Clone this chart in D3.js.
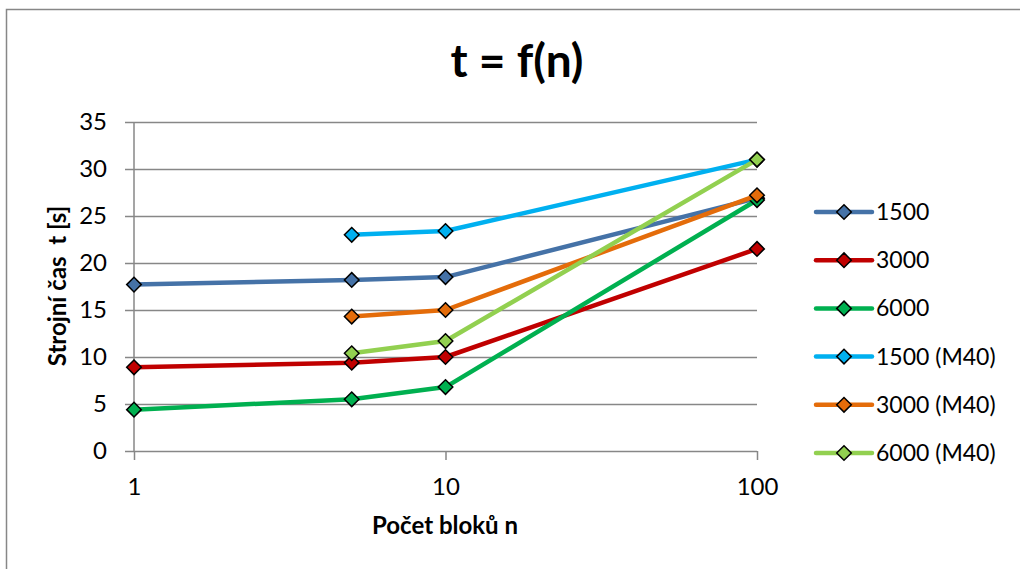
<!DOCTYPE html>
<html>
<head>
<meta charset="utf-8">
<script src="https://cdn.jsdelivr.net/npm/d3@7"></script>
<style>
  body { margin: 0; background: #fff; }
  svg text { font-family: Lato, "Open Sans", sans-serif; fill: #000; }
</style>
</head>
<body>
<svg id="chart" width="1020" height="569"></svg>
<script>
// data
const blocks = [1, 5, 10, 100];
const seriesNames = ["1500", "3000", "6000", "1500 (M40)", "3000 (M40)", "6000 (M40)"];
const seriesColors = ["#4572a7", "#c00000", "#00b050", "#00b0f0", "#e46c0a", "#92d050"];
const t1500 = [17.7, 18.2, 18.5, 26.9];
const t3000 = [8.9, 9.4, 10.0, 21.5];
const t6000 = [4.4, 5.5, 6.8, 26.7];
const t1500m40 = [null, 23.0, 23.4, 31.0];
const t3000m40 = [null, 14.3, 15.0, 27.2];
const t6000m40 = [null, 10.4, 11.7, 31.0];
const yTicks = [0, 5, 10, 15, 20, 25, 30, 35];
const xTicks = [1, 10, 100];

const allSeries = [t1500, t3000, t6000, t1500m40, t3000m40, t6000m40];

const svg = d3.select("#chart");
const grey = "#878787";

const x = d3.scaleLog().domain([1, 100]).range([134, 757]);
const y = d3.scaleLinear().domain([0, 35]).range([451, 122]);

// outer chart border (only left and top are inside the picture)
svg.append("rect")
    .attr("x", 6.5).attr("y", 9.5)
    .attr("width", 1100).attr("height", 700)
    .attr("fill", "none").attr("stroke", grey).attr("stroke-width", 1.5);

svg.append("text")
    .attr("x", 517).attr("y", 77)
    .attr("text-anchor", "middle")
    .attr("font-size", 46).attr("font-weight", "bold")
    .text("t = f(n)");

// y axis with gridlines
let yAxis = svg.append("g")
    .attr("transform", "translate(134,0)")
    .call(d3.axisLeft(y).tickValues(yTicks).tickSize(9).tickSizeOuter(0).tickPadding(18));
yAxis.select(".domain").remove();
yAxis.selectAll(".tick line").attr("stroke", grey).attr("stroke-width", 1.5);
yAxis.selectAll(".tick").append("line")
    .attr("x1", 0).attr("x2", 757 - 134)
    .attr("stroke", grey).attr("stroke-width", 1.5);
yAxis.selectAll("text").attr("font-size", 24).attr("font-family", "Lato");
svg.append("line")
    .attr("x1", 134).attr("x2", 134).attr("y1", 122).attr("y2", 451)
    .attr("stroke", grey).attr("stroke-width", 1.5);

// x axis
let xAxis = svg.append("g")
    .attr("transform", "translate(0,451)")
    .call(d3.axisBottom(x).tickValues(xTicks).tickFormat(d3.format("d")).tickSize(9).tickSizeOuter(0).tickPadding(18));
xAxis.select(".domain").remove();
xAxis.selectAll(".tick line").attr("stroke", grey).attr("stroke-width", 1.5);
xAxis.selectAll("text").attr("font-size", 24).attr("font-family", "Lato");

svg.append("text")
    .attr("x", 445).attr("y", 534)
    .attr("text-anchor", "middle")
    .attr("font-size", 24).attr("font-weight", "bold")
    .text("Počet bloků n");

svg.append("text")
    .attr("transform", "translate(66,286) rotate(-90)")
    .attr("text-anchor", "middle")
    .attr("font-size", 24).attr("font-weight", "bold")
    .attr("xml:space", "preserve")
    .style("white-space", "pre")
    .text("Strojní čas  t [s]");

const line = d3.line()
    .defined(d => d.v != null)
    .x(d => x(d.n))
    .y(d => y(d.v));

const diamond = d3.symbol().type(d3.symbolDiamond2).size(136);

allSeries.forEach(function (vals, i) {
    let pts = blocks.map((n, j) => ({ n: n, v: vals[j] }));
    let g = svg.append("g");
    g.append("path")
        .datum(pts)
        .attr("d", line)
        .attr("fill", "none")
        .attr("stroke", seriesColors[i])
        .attr("stroke-width", 4.5)
        .attr("stroke-linejoin", "round");
    g.selectAll("path.mk")
        .data(pts.filter(d => d.v != null))
        .join("path")
        .attr("class", "mk")
        .attr("d", diamond)
        .attr("transform", d => `translate(${x(d.n)},${y(d.v)})`)
        .attr("fill", seriesColors[i])
        .attr("stroke", "#000")
        .attr("stroke-width", 1.5);
});

// legend
const legendY = d3.scalePoint().domain(seriesNames).range([212, 453]);
let lg = svg.append("g").selectAll("g")
    .data(seriesNames)
    .join("g")
    .attr("transform", d => `translate(0,${legendY(d)})`);
lg.append("line")
    .attr("x1", 816).attr("x2", 872)
    .attr("stroke", (d, i) => seriesColors[i])
    .attr("stroke-width", 4.5)
    .attr("stroke-linecap", "round");
lg.append("path")
    .attr("d", diamond)
    .attr("transform", "translate(844,0)")
    .attr("fill", (d, i) => seriesColors[i])
    .attr("stroke", "#000")
    .attr("stroke-width", 1.5);
lg.append("text")
    .attr("x", 876).attr("dy", "0.35em")
    .attr("font-size", 23)
    .text(d => d);
</script>
</body>
</html>
